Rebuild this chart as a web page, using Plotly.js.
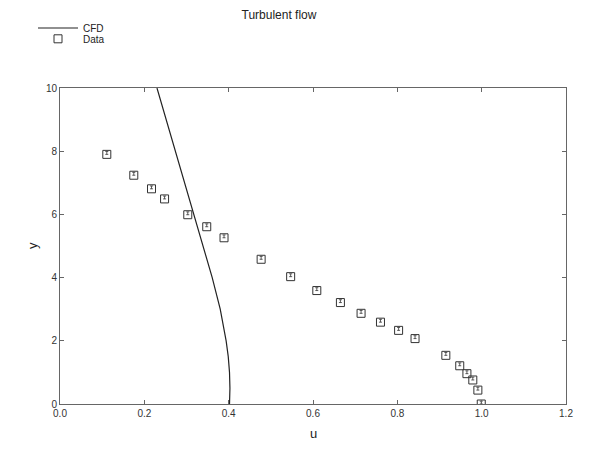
<!DOCTYPE html>
<html>
<head>
<meta charset="utf-8">
<script src="https://cdn.plot.ly/plotly-3.0.1.min.js"></script>
<style>html,body{margin:0;padding:0;background:#fff}#chart{width:600px;height:450px}</style>
</head>
<body>
<div id="chart"></div>
<script>
// CFD profile
const cfdU = [0.230, 0.274, 0.317, 0.339, 0.361, 0.380, 0.394, 0.399, 0.402, 0.403, 0.402];
const cfdY = [10, 8, 6, 5, 4, 3, 2, 1.5, 1, 0.5, 0];
// Experimental data
const dataU = [0.111, 0.175, 0.217, 0.248, 0.303, 0.348, 0.389, 0.477, 0.547, 0.609, 0.665, 0.714, 0.760, 0.803, 0.842, 0.915, 0.948, 0.965, 0.979, 0.991, 0.999];
const dataY = [7.90, 7.24, 6.81, 6.49, 5.99, 5.61, 5.26, 4.58, 4.03, 3.59, 3.21, 2.87, 2.59, 2.33, 2.07, 1.54, 1.21, 0.96, 0.76, 0.44, 0.0];
const dataErr = dataY.map(() => 0.09);
const xTicks = [0, 0.2, 0.4, 0.6, 0.8, 1.0, 1.2];
const yTicks = [0, 2, 4, 6, 8, 10];
const xTitle = 'u';
const yTitle = 'y';

const font = {family: 'Liberation Sans, Arial, sans-serif', color: '#222'};

const traces = [
  {x: cfdU, y: cfdY, name: 'CFD', mode: 'lines', type: 'scatter', legend: 'legend',
   line: {color: '#222', width: 1.2}},
  {x: dataU, y: dataY, name: 'Data', mode: 'markers', type: 'scatter', legend: 'legend2',
   marker: {symbol: 'square-open', size: 8, color: '#333', line: {width: 1, color: '#333'}},
   error_y: {type: 'data', array: dataErr, arrayminus: dataY.map(() => 0), symmetric: false,
             color: '#333', thickness: 0.8, width: 1.5}}
];

const axisCommon = {
  showgrid: false, zeroline: false, showline: true, linecolor: '#666', linewidth: 1,
  mirror: 'ticks', ticks: 'inside', ticklen: 4, tickcolor: '#666', automargin: false,
  tickfont: {family: font.family, size: 10, color: '#333'}
};

const legendCommon = {xref: 'container', yref: 'container', xanchor: 'left', yanchor: 'top',
  bgcolor: 'rgba(0,0,0,0)', itemwidth: 40,
  font: {family: font.family, size: 10, color: '#222'}};

const titleFont = {family: font.family, size: 13, color: '#222'};

const layout = {
  width: 600, height: 450,
  margin: {l: 60, r: 34, t: 88, b: 46, autoexpand: false},
  paper_bgcolor: '#fff', plot_bgcolor: '#fff',
  font: font,
  title: {text: 'Turbulent flow', font: {family: font.family, size: 12, color: '#222'},
          xref: 'container', x: 0.465, xanchor: 'center', yref: 'container', y: 0.967, yanchor: 'middle'},
  xaxis: Object.assign({}, axisCommon, {range: [0, 1.2], tickvals: xTicks, tickformat: '.1f'}),
  yaxis: Object.assign({}, axisCommon, {range: [0, 10], tickvals: yTicks}),
  annotations: [
    {text: xTitle, xref: 'paper', yref: 'paper', x: 0.5, y: 0, yshift: -29, xanchor: 'center', yanchor: 'middle',
     showarrow: false, font: titleFont},
    {text: yTitle, xref: 'paper', yref: 'paper', x: 0, xshift: -28, y: 0.5, xanchor: 'center', yanchor: 'middle',
     textangle: -90, showarrow: false, font: titleFont}
  ],
  showlegend: true,
  legend: Object.assign({}, legendCommon, {x: 0.055, y: 0.970}),
  legend2: Object.assign({}, legendCommon, {x: 0.055, y: 0.946})
};

Plotly.newPlot('chart', traces, layout, {displayModeBar: false, staticPlot: true});
</script>
</body>
</html>
